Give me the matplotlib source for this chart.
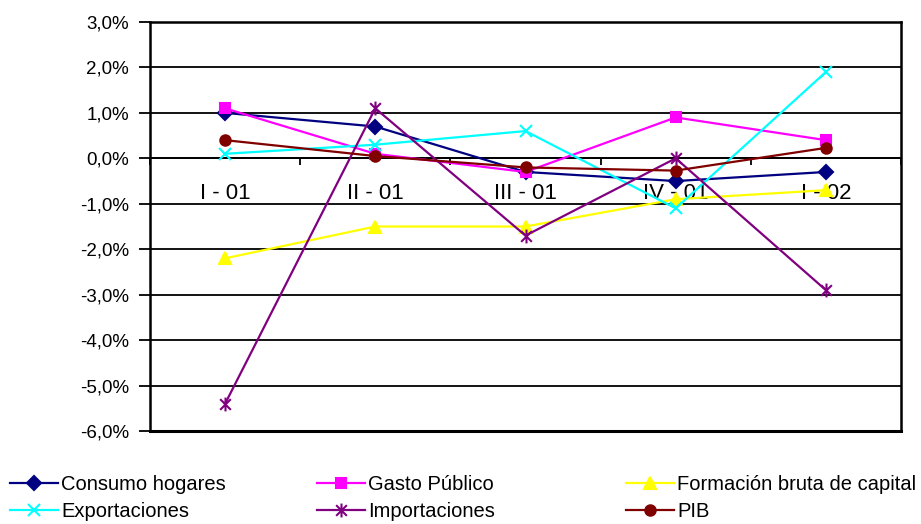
import matplotlib
matplotlib.use("Agg")
import matplotlib.pyplot as plt
from matplotlib.path import Path

plt.rcParams['font.family'] = ['Liberation Sans', 'DejaVu Sans']

# quarterly variation (%) by demand component
quarters = ["I - 01", "II - 01", "III - 01", "IV - 01", "I - 02"]
consumo = [1.0, 0.7, -0.3, -0.5, -0.3]
gasto = [1.1, 0.1, -0.3, 0.9, 0.4]
formacion = [-2.2, -1.5, -1.5, -0.9, -0.7]
exportaciones = [0.1, 0.3, 0.6, -1.1, 1.9]
importaciones = [-5.4, 1.1, -1.7, 0.0, -2.9]
pib = [0.4, 0.05, -0.2, -0.27, 0.23]

y_ticks = [3, 2, 1, 0, -1, -2, -3, -4, -5, -6]

# asterisk marker: an X crossed by a vertical stroke
star = Path([(-1, -1), (1, 1), (-1, 1), (1, -1), (0, -1.3), (0, 1.3)],
            [Path.MOVETO, Path.LINETO, Path.MOVETO, Path.LINETO, Path.MOVETO, Path.LINETO])

series = [
    ("Consumo hogares", consumo, "#000080", "D", 7),
    ("Gasto Público", gasto, "#FF00FF", "s", 7.5),
    ("Formación bruta de capital", formacion, "#FFFF00", "^", 8.5),
    ("Exportaciones", exportaciones, "#00FFFF", "x", 8),
    ("Importaciones", importaciones, "#800080", star, 10),
    ("PIB", pib, "#800000", "o", 7.5),
]

fig = plt.figure(figsize=(9.21, 5.24), dpi=100)
ax = fig.add_axes([150 / 921, 93 / 524, 751 / 921, 409 / 524])

x = list(range(len(quarters)))
handles = []
for name, vals, color, mk, ms in series:
    h, = ax.plot(x, vals, color=color, lw=1.6, marker=mk, markersize=ms,
                 markerfacecolor=color, markeredgecolor=color, mew=1.5,
                 label=name, zorder=3, clip_on=False)
    handles.append(h)

ax.set_xlim(-0.5, len(quarters) - 0.5)
ax.set_ylim(-6, 3)

# horizontal grid
ax.set_yticks(y_ticks)
ax.set_yticklabels([f"{v:.1f}%".replace(".", ",") for v in y_ticks])
ax.yaxis.grid(True, color="black", lw=1.3)
ax.set_axisbelow(True)
ax.tick_params(axis="y", length=8, width=1.3, pad=7, labelsize=13.5)

# category axis sits on the zero line, ticks between categories
ax.spines["bottom"].set_position(("data", 0))
ax.set_xticks([i - 0.5 for i in range(len(quarters) + 1)])
ax.set_xticklabels([])
ax.set_xticks(x, minor=True)
ax.set_xticklabels(quarters, minor=True)
ax.tick_params(axis="x", which="major", length=5, width=1.3, direction="out")
ax.tick_params(axis="x", which="minor", length=0, pad=18, labelsize=16)
ax.axhline(-6, color="black", lw=2.2, clip_on=False, zorder=4)

for side in ["left", "right", "top"]:
    ax.spines[side].set_linewidth(1.8)
    ax.spines[side].set_color("black")
ax.spines["bottom"].set_linewidth(1.3)

# legend in three columns under the plot
columns = [(10, [0, 3]), (317, [1, 4]), (626, [2, 5])]
for xpos, idx in columns:
    leg = fig.legend([handles[i] for i in idx], [series[i][0] for i in idx],
                     loc="upper left", bbox_to_anchor=(xpos / 921, 49 / 524),
                     bbox_transform=fig.transFigure, frameon=False,
                     borderaxespad=0, borderpad=0, fontsize=14.5,
                     handlelength=2.4, handletextpad=0.15, labelspacing=0.4)

fig.savefig("out.png", dpi=100)
